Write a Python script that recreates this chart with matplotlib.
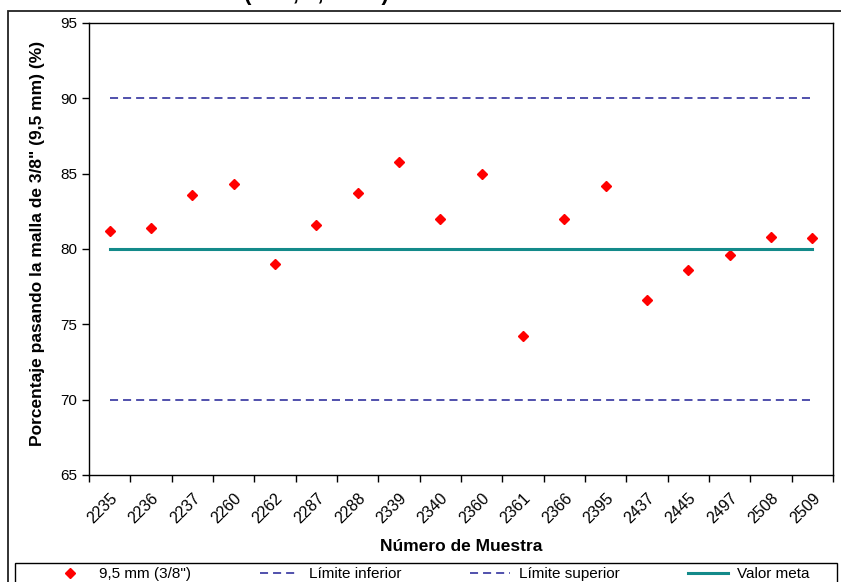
import matplotlib
matplotlib.use("Agg")
import matplotlib.pyplot as plt
from matplotlib.patches import Rectangle

plt.rcParams['font.family'] = ['Liberation Sans', 'DejaVu Sans']
plt.rcParams['lines.scale_dashes'] = False

muestras = ['2235', '2236', '2237', '2260', '2262', '2287', '2288', '2339', '2340',
            '2360', '2361', '2366', '2395', '2437', '2445', '2497', '2508', '2509']
pasa_38 = [81.2, 81.4, 83.6, 84.3, 79.0, 81.6, 83.7, 85.8, 82.0,
           85.0, 74.2, 82.0, 84.2, 76.6, 78.6, 79.6, 80.8, 80.7]
lim_inf = [70] * len(muestras)
lim_sup = [90] * len(muestras)
meta = [80] * len(muestras)

fig = plt.figure(figsize=(8.41, 5.82), dpi=100)
ax = fig.add_axes([89/841, 1-475/582, (833-89)/841, (475-23)/582])

x = list(range(len(muestras)))
ax.plot(x, pasa_38, linestyle='none', marker='D', markersize=5.2,
        color='#FF0000', label='9,5 mm (3/8")')
ax.plot(x, lim_inf, color='#202096', lw=1.1, dashes=(5.8, 3.6), label='Límite inferior')
ax.plot(x, lim_sup, color='#202096', lw=1.1, dashes=(5.8, 3.6), label='Límite superior')
ax.plot(x, meta, color='#138A8A', lw=2.2, label='Valor meta')

ax.set_xlim(-0.5, len(muestras) - 0.5)
ax.set_ylim(65, 95)
ax.set_yticks([65, 70, 75, 80, 85, 90, 95])
ax.tick_params(axis='y', labelsize=11, direction='out', length=5, width=1)

# ticks between categories, labels centred under each sample
ax.set_xticks([i - 0.5 for i in range(len(muestras) + 1)])
ax.set_xticklabels([])
ax.set_xticks(x, minor=True)
ax.set_xticklabels(muestras, minor=True, rotation=45, ha='right',
                   rotation_mode='anchor', fontsize=11.5)
ax.tick_params(axis='x', which='major', direction='out', length=5, width=1)
ax.tick_params(axis='x', which='minor', length=0, pad=11)

for s in ax.spines.values():
    s.set_linewidth(1)
    s.set_color('black')

ax.set_xlabel('Número de Muestra', fontsize=12.5, fontweight='bold', labelpad=9)
ax.set_ylabel('Porcentaje pasando la malla de 3/8" (9,5 mm) (%)',
              fontsize=12.5, fontweight='bold')
ax.yaxis.set_label_coords(-0.059, 0.513)

# title sits above the top edge, only its descenders show
fig.text(316/841, 1.0, '(3/8", 9,5 mm)', ha='center', va='baseline',
         fontsize=16, fontweight='bold')

# chart border
fig.patches.append(Rectangle((8/841, -0.05), 1.1, 1-11/582+0.05,
                             transform=fig.transFigure, fill=False,
                             edgecolor='#222222', lw=1.3))

# legend box
fig.patches.append(Rectangle((15/841, -0.05), 822/841, 1-563/582+0.05,
                             transform=fig.transFigure, fill=False,
                             edgecolor='black', lw=1.0))
leg = fig.legend(loc='upper left', ncol=4, bbox_to_anchor=(50/841, 1-567/582),
                 frameon=False, fontsize=11, handlelength=2.6,
                 handletextpad=0.6, columnspacing=4.5, borderpad=0,
                 borderaxespad=0)

fig.savefig('out.png', dpi=100)
